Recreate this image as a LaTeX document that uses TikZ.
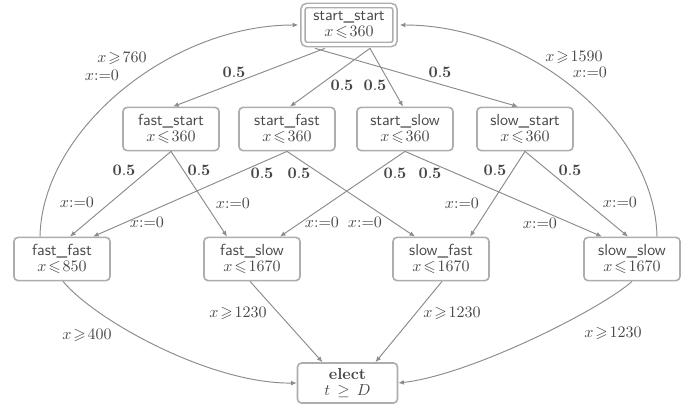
\documentclass[tikz,border=0pt]{standalone}
\usepackage{amssymb}
\usetikzlibrary{arrows.meta,calc}
\definecolor{boxgray}{gray}{0.68}
\definecolor{linegray}{gray}{0.55}
\definecolor{txtgray}{gray}{0.28}
\begin{document}
\begin{tikzpicture}[x=0.625pt,y=-0.625pt,
  state/.style={draw=boxgray, line width=1pt, rounded corners=2.5pt,
    minimum width=60pt, minimum height=27pt, inner sep=1pt, align=center,
    text=txtgray, font=\fontsize{10}{10.5}\selectfont},
  edge/.style={draw=linegray, line width=0.6pt, -{Latex[length=3.5pt,width=3pt]}},
  lbl/.style={text=txtgray, inner sep=0pt}]
\useasboundingbox (0,0) rectangle (690,410);

% states
\node[state, double=white, double distance=1.6pt, minimum width=57.5pt, minimum height=24.4pt] (ss) at (349,25) {\textsf{start\_start}\\$x\!\leqslant\!360$};
\node[state] (fs)  at (171,129) {\textsf{fast\_start}\\$x\!\leqslant\!360$};
\node[state] (sf)  at (287,129) {\textsf{start\_fast}\\$x\!\leqslant\!360$};
\node[state] (sl)  at (405,129) {\textsf{start\_slow}\\$x\!\leqslant\!360$};
\node[state] (sls) at (525,129) {\textsf{slow\_start}\\$x\!\leqslant\!360$};
\node[state] (ff)   at (62,259)  {\textsf{fast\_fast}\\$x\!\leqslant\!850$};
\node[state] (fsl)  at (252,259) {\textsf{fast\_slow}\\$x\!\leqslant\!1670$};
\node[state] (slf)  at (441,259) {\textsf{slow\_fast}\\$x\!\leqslant\!1670$};
\node[state] (slsl) at (632,259) {\textsf{slow\_slow}\\$x\!\leqslant\!1670$};
\node[state, minimum width=62.5pt, minimum height=25pt] (el) at (347.5,383) {\textbf{elect}\\$t\,\geq\,D$};

% first level
\draw[edge] ($(ss.south)+(-24,3)$) -- ($(fs.north)+(2,0)$);
\draw[edge] ($(ss.south)+(21,3)$) -- ($(sf.north)+(3,0)$);
\draw[edge] ($(ss.south)+(21,3)$) -- ($(sl.north)+(-2,0)$);
\draw[edge] ($(ss.south)+(-34,3)$) -- ($(sls.north)+(-7,0)$);
\node[lbl] (l1) at (234,72) {$\mathbf{0.5}$};
\node[lbl] (l2) at (342,85) {$\mathbf{0.5}$};
\node[lbl] (l3) at (375,85) {$\mathbf{0.5}$};
\node[lbl] (l4) at (440,72) {$\mathbf{0.5}$};

% second level
\draw[edge] (fs.south) -- ($(ff.north)+(8,0)$);
\draw[edge] (fs.south) -- ($(fsl.north)+(-25,0)$);
\draw[edge] (sf.south) -- ($(ff.north)+(31,0)$);
\draw[edge] (sf.south) -- ($(slf.north)+(-26,0)$);
\draw[edge] (sl.south) -- ($(fsl.north)+(28,0)$);
\draw[edge] (sl.south) -- ($(slsl.north)+(-30,0)$);
\draw[edge] (sls.south) -- ($(slf.north)+(29,0)$);
\draw[edge] (sls.south) -- ($(slsl.north)+(-4,0)$);

\node[lbl] (p1) at (124,170) {$\mathbf{0.5}$};
\node[lbl] (p2) at (199,170) {$\mathbf{0.5}$};
\node[lbl] (p3) at (262,173) {$\mathbf{0.5}$};
\node[lbl] (p4) at (299,173) {$\mathbf{0.5}$};
\node[lbl] (p5) at (395,173) {$\mathbf{0.5}$};
\node[lbl] (p6) at (430,173) {$\mathbf{0.5}$};
\node[lbl] (p7) at (495,170) {$\mathbf{0.5}$};
\node[lbl] (p8) at (570,170) {$\mathbf{0.5}$};

\node[lbl] (r1) at (77,202)  {$x{:=}0$};
\node[lbl] (r2) at (233,203) {$x{:=}0$};
\node[lbl] (r3) at (147,222) {$x{:=}0$};
\node[lbl] (r4) at (365,222) {$x{:=}0$};
\node[lbl] (r5) at (322,222) {$x{:=}0$};
\node[lbl] (r6) at (540,223) {$x{:=}0$};
\node[lbl] (r7) at (462,203) {$x{:=}0$};
\node[lbl] (r8) at (620,202) {$x{:=}0$};

% back edges to start
\draw[edge] ($(ff.north)+(-22,0)$) .. controls (42,130) and (170,25) .. ($(ss.west)+(-4,0)$);
\draw[edge] ($(slsl.north)+(25,0)$) .. controls (655,130) and (530,25) .. ($(ss.east)+(4,0)$);
\node[lbl] (b1) at (122,58) {$x\!\geqslant\!760$};
\node[lbl] (b2) at (102,75) {$x{:=}0$};
\node[lbl] (b3) at (574,57) {$x\!\geqslant\!1590$};
\node[lbl] (b4) at (590,72) {$x{:=}0$};

% edges to elect
\draw[edge] ($(ff.south)+(1,0)$) .. controls (95,320) and (210,384) .. (el.west);
\draw[edge] ($(fsl.south)+(-2,0)$) -- ($(el.north)+(-25,0)$);
\draw[edge] ($(slf.south)+(1,0)$) -- ($(el.north)+(28,0)$);
\draw[edge] (slsl.south) .. controls (600,310) and (470,375) .. (el.east);
\node[lbl] (e1) at (87,335)  {$x\!\geqslant\!400$};
\node[lbl] (e2) at (238,313) {$x\!\geqslant\!1230$};
\node[lbl] (e3) at (452,313) {$x\!\geqslant\!1230$};
\node[lbl] (e4) at (613,333) {$x\!\geqslant\!1230$};
\end{tikzpicture}
\end{document}
